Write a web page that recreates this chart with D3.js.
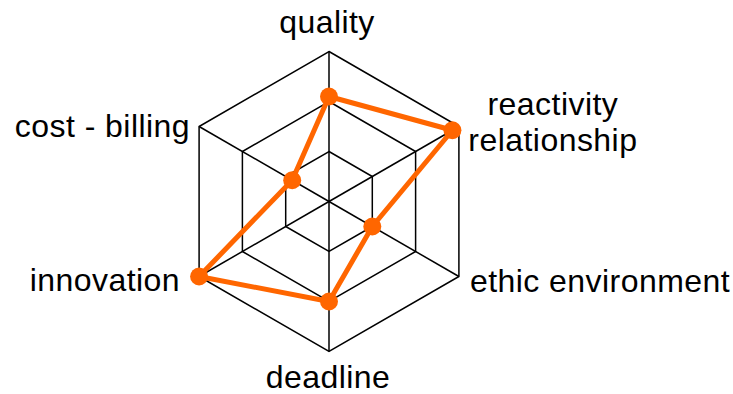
<!DOCTYPE html>
<html>
<head>
<meta charset="utf-8">
<script src="https://cdn.jsdelivr.net/npm/d3@7"></script>
<style>
  html, body { margin: 0; padding: 0; background: #fff; }
  svg { display: block; }
  text { font-family: "Liberation Sans", Arial, Helvetica, sans-serif; fill: #000; }
</style>
</head>
<body>
<svg id="chart" width="733" height="394"></svg>
<script>
// ---- data ----
const categories = ["quality", "reactivity relationship", "ethic environment", "deadline", "innovation", "cost - billing"];
const labelLines = [["quality"], ["reactivity", "relationship"], ["ethic environment"], ["deadline"], ["innovation"], ["cost - billing"]];
const values = [2.1, 2.85, 1.0, 2.0, 3.0, 0.85];
const ringLevels = [1, 2, 3];
const maxValue = 3;

// ---- layout ----
const W = 733, H = 394;
const cx = 329, cy = 201.5, R = 150;
const fontSize = 32;
const letterSpacing = 0.45;
// label anchor offsets relative to each outer vertex: [dx, dy(baseline of first line), anchor]
const labelLayout = [
  [-2, -19, "middle"],
  [94, -12, "middle"],
  [11, 15, "start"],
  [-1, 36, "middle"],
  [-19, 14, "end"],
  [-9, 10, "end"]
];
const lineGap = 36;

const svg = d3.select("#chart");
const g = svg.append("g").attr("transform", `translate(${cx},${cy})`);

const r = d3.scaleLinear().domain([0, maxValue]).range([0, R]);
const angle = d3.scalePoint().domain(categories).range([0, 2 * Math.PI * (categories.length - 1) / categories.length]);

const pt = (cat, v) => {
  const a = angle(cat);
  return [Math.sin(a) * r(v), -Math.cos(a) * r(v)];
};

const lineRadial = d3.lineRadial()
  .angle(d => angle(d.cat))
  .radius(d => r(d.v))
  .curve(d3.curveLinearClosed);

// grid rings
g.selectAll("path.ring")
  .data(ringLevels)
  .join("path")
  .attr("class", "ring")
  .attr("d", lvl => lineRadial(categories.map(c => ({cat: c, v: lvl}))))
  .attr("fill", "none")
  .attr("stroke", "#000")
  .attr("stroke-width", 1.5);

// spokes
g.selectAll("line.spoke")
  .data(categories)
  .join("line")
  .attr("class", "spoke")
  .attr("x1", 0).attr("y1", 0)
  .attr("x2", c => pt(c, maxValue)[0])
  .attr("y2", c => pt(c, maxValue)[1])
  .attr("stroke", "#000")
  .attr("stroke-width", 1.5);

// data polygon
const series = categories.map((c, i) => ({cat: c, v: values[i]}));
g.append("path")
  .attr("d", lineRadial(series))
  .attr("fill", "none")
  .attr("stroke", "#FF6600")
  .attr("stroke-width", 5)
  .attr("stroke-linejoin", "round");

g.selectAll("circle.dot")
  .data(series)
  .join("circle")
  .attr("class", "dot")
  .attr("cx", d => pt(d.cat, d.v)[0])
  .attr("cy", d => pt(d.cat, d.v)[1])
  .attr("r", 9)
  .attr("fill", "#FF6600");

// labels
categories.forEach((c, i) => {
  const [vx, vy] = pt(c, maxValue);
  const [dx, dy, anchor] = labelLayout[i];
  const t = g.append("text")
    .attr("x", vx + dx)
    .attr("y", vy + dy)
    .attr("text-anchor", anchor)
    .attr("font-size", fontSize)
    .attr("letter-spacing", letterSpacing);
  labelLines[i].forEach((ln, j) => {
    t.append("tspan")
      .attr("x", vx + dx)
      .attr("dy", j === 0 ? 0 : lineGap)
      .text(ln);
  });
});
</script>
</body>
</html>
